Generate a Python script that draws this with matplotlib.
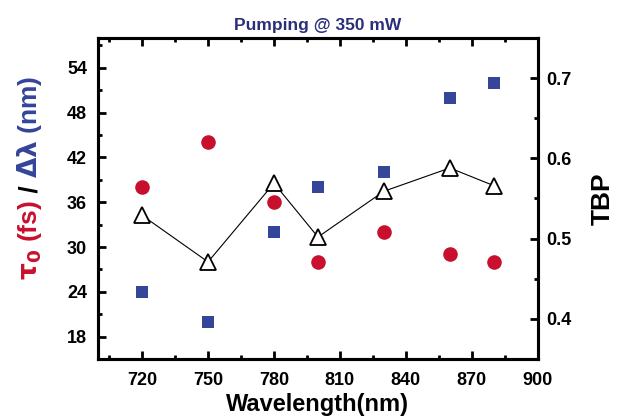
import numpy as np
import matplotlib
matplotlib.use('Agg')
import matplotlib.pyplot as plt
from matplotlib.ticker import MultipleLocator

# data
wavelength = [720, 750, 780, 800, 830, 860, 880]
tau0 = [38, 44, 36, 28, 32, 29, 28]
dlambda = [24, 20, 32, 38, 40, 50, 52]
tbp = [0.529, 0.471, 0.569, 0.502, 0.559, 0.588, 0.566]

red = '#C8102E'
blue = '#34459A'
navy = '#2B2F7A'

plt.rcParams['font.family'] = ['Liberation Sans', 'DejaVu Sans']
plt.rcParams['font.weight'] = 'bold'

fig = plt.figure(figsize=(6.21, 4.17), dpi=100)
ax = fig.add_axes([0.158, 0.139, 0.708, 0.770])
ax2 = ax.twinx()

ax.plot(wavelength, tau0, 'o', color=red, markersize=10.5, markeredgewidth=0)
ax.plot(wavelength, dlambda, 's', color=blue, markersize=9, markeredgewidth=0)
ax2.plot(wavelength, tbp, '-', color='black', linewidth=0.8, zorder=1)
ax2.plot(wavelength, tbp, '^', color='black', markerfacecolor='white',
         markersize=12, markeredgewidth=1.3, zorder=2)

ax.set_xlim(700, 900)
ax.set_ylim(15, 58)
ax2.set_ylim(0.35, 0.75)

ax.xaxis.set_major_locator(MultipleLocator(30))
ax.xaxis.set_minor_locator(MultipleLocator(15))
ax.yaxis.set_major_locator(MultipleLocator(6))
ax.yaxis.set_minor_locator(MultipleLocator(3))
ax2.yaxis.set_major_locator(MultipleLocator(0.1))
ax2.yaxis.set_minor_locator(MultipleLocator(0.05))
ax.set_xticks([720, 750, 780, 810, 840, 870, 900])

for a in (ax, ax2):
    for s in a.spines.values():
        s.set_linewidth(2.2)
ax.tick_params(axis='x', which='both', direction='in', top=True, width=2)
ax.tick_params(axis='y', which='both', direction='in', right=False, width=2)
ax.tick_params(which='major', length=6, labelsize=13)
ax.tick_params(which='minor', length=3)
ax2.tick_params(axis='y', which='both', direction='in', width=2, labelsize=13)
ax2.tick_params(which='major', length=6)
ax2.tick_params(which='minor', length=3)
ax.tick_params(axis='x', pad=9)
ax.tick_params(axis='y', pad=8)
ax2.tick_params(axis='y', pad=6)
ax2.yaxis.set_major_formatter(plt.FuncFormatter(lambda v, p: f'{v:.1f}'))

ax.set_xlabel('Wavelength(nm)', fontsize=17, fontweight='bold', labelpad=3)
ax2.set_ylabel('TBP', fontsize=19, fontweight='bold', labelpad=14)
ax.set_title('Pumping @ 350 mW', fontsize=12.5, fontweight='bold', color=navy, pad=6)

# multi-coloured left label, stacked bottom to top
parts = [(r'$\mathbf{\tau_0}$ (fs)', red), (' / ', 'black'), (r'$\mathbf{\Delta\lambda}$ (nm)', blue)]
fig.canvas.draw()
renderer = fig.canvas.get_renderer()
texts = []
total = 0
for s, c in parts:
    t = fig.text(0, 0, s, rotation=90, color=c, fontsize=19, fontweight='bold',
                 va='bottom', ha='center')
    h = t.get_window_extent(renderer).height
    texts.append((t, h))
    total += h
y = (417 - 178) - total / 2
for t, h in texts:
    t.set_position((30 / 621, y / 417))
    y += h

fig.savefig('out.png', dpi=100)
